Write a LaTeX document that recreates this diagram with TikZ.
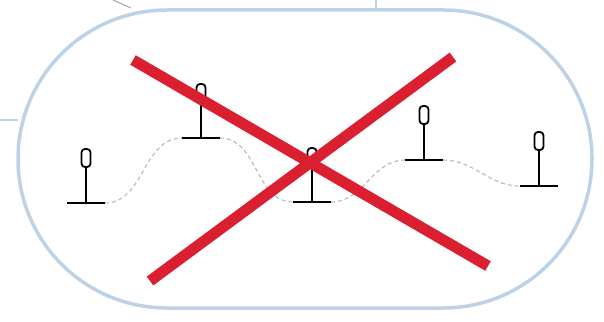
\documentclass[tikz,border=0pt]{standalone}
\definecolor{crossred}{RGB}{218,32,48}
\definecolor{rimblue}{RGB}{190,210,230}
\begin{document}
\begin{tikzpicture}[x=1pt, y=-1pt]
\useasboundingbox (0,0) rectangle (604,321);

% Outer rounded frame
\draw[rimblue, line width=3.5, fill=white, rounded corners=149] (18,10) rectangle (592,308);

% Stubs of outside links
\coordinate (topl) at (113,0);
\coordinate (topr) at (376,0);
\coordinate (left) at (0,120);
\draw[gray!70, line width=1] (topl) -- ++(18,8);
\draw[rimblue, line width=2.5] (topr) -- ++(0,10);
\draw[rimblue, line width=2.5] (left) -- ++(18,0);

% Pin positions (foot of each stem)
\foreach \n/\x/\y in {1/86/203, 2/201/138, 3/312/202, 4/424/160, 5/539/186}
  \coordinate (p\n) at (\x,\y);

% Dashed track between the pins
\foreach \a/\b in {1/2, 2/3, 3/4, 4/5} {
  \draw[gray!55, dash pattern=on 4pt off 3pt, line width=1.1] ([xshift=19pt]p\a) to[out=0, in=180] ([xshift=-19pt]p\b);
}

% Pins
\foreach \n in {1,...,5} {
  \draw[line width=2.8] ([xshift=-19pt]p\n) -- ([xshift=19pt]p\n);
  \draw[line width=2.2] (p\n) -- ++(0,-36);
  \draw[line width=1.8, rounded corners=3.5, fill=white] ([shift={(-4.5,-36)}]p\n) rectangle ([shift={(4.5,-54)}]p\n);
}

% Red cross
\coordinate (c1) at (133,60);
\coordinate (c2) at (488,266);
\coordinate (c3) at (150,281);
\coordinate (c4) at (453,57);
\draw[crossred, line width=11] (c1) -- (c2);
\draw[crossred, line width=11] (c3) -- (c4);
\end{tikzpicture}
\end{document}
